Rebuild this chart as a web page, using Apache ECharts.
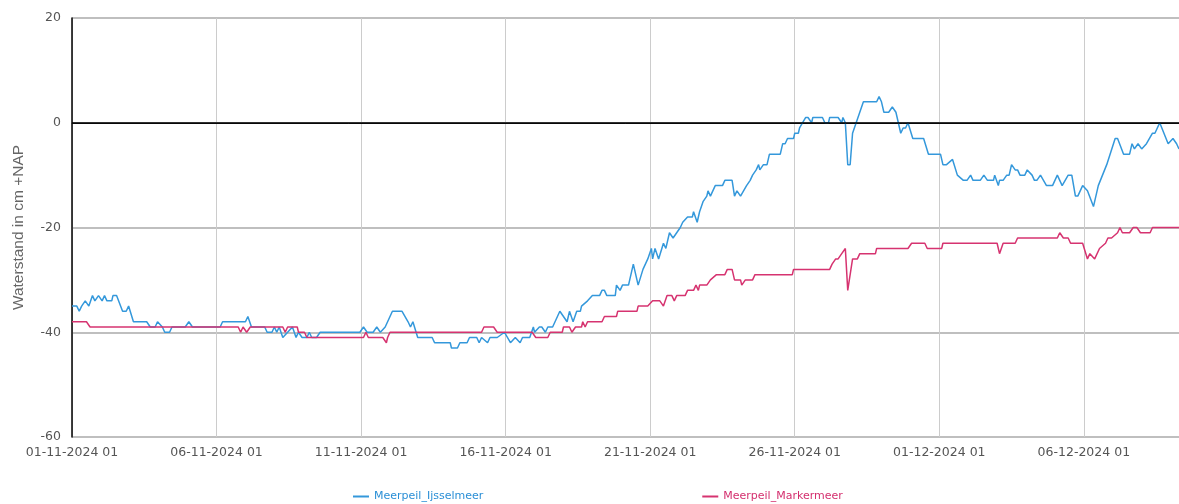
<!DOCTYPE html>
<html>
<head>
    <meta charset="utf-8">
    <title>Meerpeil Ijsselmeer / Markermeer</title>
    <script src="https://cdn.jsdelivr.net/npm/echarts@6/dist/echarts.min.js"></script>
    <style>
        html, body { margin: 0; padding: 0; background: #fff; }
    </style>
</head>
<body>
    <div id="main" style="width: 1179px;height:504px;"></div>
    <script type="text/javascript">
        // tijd = uren na 01-11-2024 01:00, waarde = cm +NAP
        var xLabels = ['01-11-2024 01', '06-11-2024 01', '11-11-2024 01', '16-11-2024 01',
                       '21-11-2024 01', '26-11-2024 01', '01-12-2024 01', '06-12-2024 01'];
        var yTicks = [-60, -40, -20, 0, 20];
        var seriesNames = ['Meerpeil_Ijsselmeer', 'Meerpeil_Markermeer'];

        var ijsselUren = [0, 4, 6, 8, 11, 12, 14, 17, 19, 22, 25, 27, 29, 33, 34, 37, 42, 45, 47, 51,
            62, 65, 69, 71, 75, 77, 81, 83, 94, 97, 100, 123, 125, 144, 146, 149, 160, 162, 166, 168,
            170, 172, 175, 179, 183, 186, 188, 191, 195, 197, 199, 203, 206, 239, 242, 245, 250, 253, 256, 260,
            266, 274, 279, 281, 283, 287, 299, 301, 314, 315, 320, 322, 328, 330, 336, 338, 340, 345, 347, 353,
            359, 364, 368, 372, 374, 380, 383, 384, 388, 390, 393, 395, 399, 401, 403, 405, 408, 411, 413, 416,
            419, 422, 423, 428, 432, 438, 440, 442, 444, 451, 452, 455, 457, 462, 463, 466, 470, 474, 478, 481,
            482, 484, 487, 491, 493, 496, 499, 505, 507, 511, 515, 516, 519, 521, 524, 527, 528, 530, 534, 540,
            542, 548, 550, 552, 555, 556, 560, 563, 565, 568, 570, 571, 574, 577, 579, 588, 590, 592, 594, 599,
            600, 603, 604, 609, 611, 614, 615, 623, 625, 628, 629, 636, 639, 640, 642, 644, 646, 648, 651, 654,
            657, 668, 670, 672, 674, 678, 681, 682, 684, 688, 690, 692, 694, 698, 707, 711, 721, 723, 726, 731,
            735, 740, 743, 746, 748, 754, 757, 760, 765, 766, 769, 770, 773, 776, 778, 780, 783, 785, 787, 791,
            793, 797, 799, 801, 804, 805, 809, 814, 818, 822, 827, 830, 833, 835, 839, 843, 848, 852, 859, 866,
            868, 873, 878, 880, 882, 885, 888, 892, 897, 899, 903, 910, 914, 917, 919];
        var ijsselWaarden = [-35, -35, -36, -35, -34, -34, -35, -33, -34, -33, -34, -33, -34, -34, -33, -33, -36, -36, -35, -38,
            -38, -39, -39, -38, -39, -40, -40, -39, -39, -38, -39, -39, -38, -38, -37, -39, -39, -40, -40, -39,
            -40, -39, -41, -40, -39, -41, -40, -41, -41, -40, -41, -41, -40, -40, -39, -40, -40, -39, -40, -39,
            -36, -36, -38, -39, -38, -41, -41, -42, -42, -43, -43, -42, -42, -41, -41, -42, -41, -42, -41, -41,
            -40, -42, -41, -42, -41, -41, -39, -40, -39, -39, -40, -39, -39, -38, -37, -36, -37, -38, -36, -38,
            -36, -36, -35, -34, -33, -33, -32, -32, -33, -33, -31, -32, -31, -31, -30, -27, -31, -28, -26, -24,
            -26, -24, -26, -23, -24, -21, -22, -20, -19, -18, -18, -17, -19, -17, -15, -14, -13, -14, -12, -12,
            -11, -11, -14, -13, -14, -14, -12, -11, -10, -9, -8, -9, -8, -8, -6, -6, -4, -4, -3, -3,
            -2, -2, -1, 1, 1, 0, 1, 1, 0, 0, 1, 1, 0, 1, 0, -8, -8, -2, 0, 2,
            4, 4, 5, 4, 2, 2, 3, 3, 2, -2, -1, -1, 0, -3, -3, -6, -6, -8, -8, -7,
            -10, -11, -11, -10, -11, -11, -10, -11, -11, -10, -12, -11, -11, -10, -10, -8, -9, -9, -10, -10,
            -9, -10, -11, -11, -10, -10, -12, -12, -10, -12, -10, -10, -14, -14, -12, -13, -16, -12, -8, -3,
            -3, -6, -6, -4, -5, -4, -5, -4, -2, -2, 0, -4, -3, -4, -5];

        var markerUren = [0, 12, 15, 138, 140, 142, 145, 148, 175, 177, 179, 187, 188, 193, 195, 242, 244, 246, 258, 261,
            262, 264, 340, 342, 350, 353, 382, 385, 395, 397, 407, 408, 413, 415, 418, 423, 424, 426, 428, 440,
            442, 452, 453, 469, 470, 478, 482, 488, 491, 494, 498, 500, 502, 509, 511, 516, 518, 520, 521, 527,
            530, 531, 535, 542, 544, 548, 550, 555, 556, 559, 565, 567, 598, 599, 629, 631, 634, 636, 639, 642,
            644, 648, 652, 654, 667, 668, 694, 697, 708, 710, 722, 723, 768, 770, 773, 783, 785, 818, 820, 823,
            827, 829, 839, 843, 845, 849, 853, 858, 860, 863, 868, 870, 872, 878, 881, 884, 887, 895, 897, 919];
        var markerWaarden = [-38, -38, -39, -39, -40, -39, -40, -39, -39, -40, -39, -39, -40, -40, -41, -41, -40, -41, -41, -42,
            -41, -40, -40, -39, -39, -40, -40, -41, -41, -40, -40, -39, -39, -40, -39, -39, -38, -39, -38, -38,
            -37, -37, -36, -36, -35, -35, -34, -34, -35, -33, -33, -34, -33, -33, -32, -32, -31, -32, -31, -31,
            -30, -30, -29, -29, -28, -28, -30, -30, -31, -30, -30, -29, -29, -28, -28, -27, -26, -26, -25, -24,
            -32, -26, -26, -25, -25, -24, -24, -23, -23, -24, -24, -23, -23, -25, -23, -23, -22, -22, -21, -22,
            -22, -23, -23, -26, -25, -26, -24, -23, -22, -22, -21, -20, -21, -21, -20, -20, -21, -21, -20, -20];

        function pairs(uren, waarden) {
            return uren.map(function (u, i) { return [u, waarden[i]]; });
        }

        var myChart = echarts.init(document.getElementById('main'));
        myChart.setOption({
            animation: false,
            legend: {
                left: 353,
                top: 491,
                padding: 0,
                itemWidth: 16,
                itemHeight: 2,
                itemGap: 219,
                icon: 'rect',
                data: [
                    { name: seriesNames[0], textStyle: { color: '#2b8fd6' } },
                    { name: seriesNames[1], textStyle: { color: '#d42f6e' } }
                ],
                textStyle: { fontFamily: 'DejaVu Sans', fontSize: 11 }
            },
            grid: {
                left: 72,
                right: 0,
                top: 18,
                bottom: 67
            },
            xAxis: {
                type: 'value',
                min: 0,
                max: 919,
                interval: 120,
                axisLine: { lineStyle: { color: '#222', width: 1 } },
                axisTick: { show: false },
                splitLine: { show: true, lineStyle: { color: '#cccccc', width: 1 } },
                axisLabel: {
                    margin: 9,
                    color: '#555',
                    fontFamily: 'DejaVu Sans',
                    fontSize: 12.5,
                    showMaxLabel: false,
                    formatter: function (v) {
                        var i = v / 120;
                        return (i === Math.floor(i) && xLabels[i]) ? xLabels[i] : '';
                    }
                }
            },
            yAxis: {
                type: 'value',
                min: yTicks[0],
                max: yTicks[yTicks.length - 1],
                interval: 20,
                name: 'Waterstand in cm +NAP',
                nameLocation: 'middle',
                nameGap: 45,
                nameTextStyle: { color: '#666', fontFamily: 'Liberation Sans', fontSize: 15.5 },
                axisLine: { show: true, lineStyle: { color: '#000', width: 1.5 } },
                axisTick: { show: false },
                splitLine: { lineStyle: { color: '#aaaaaa', width: 1.5 } },
                axisLabel: {
                    margin: 11,
                    color: '#555',
                    fontFamily: 'DejaVu Sans',
                    fontSize: 12.5
                }
            },
            series: [
                {
                    name: seriesNames[0],
                    type: 'line',
                    showSymbol: false,
                    color: '#3498db',
                    lineStyle: { width: 1.5, color: '#3498db' },
                    data: pairs(ijsselUren, ijsselWaarden),
                    markLine: {
                        silent: true,
                        symbol: 'none',
                        label: { show: false },
                        lineStyle: { color: '#000', type: 'solid', width: 1.5 },
                        data: [{ yAxis: 0 }]
                    },
                    z: 3
                },
                {
                    name: seriesNames[1],
                    type: 'line',
                    showSymbol: false,
                    color: '#d63370',
                    lineStyle: { width: 1.5, color: '#d63370' },
                    data: pairs(markerUren, markerWaarden),
                    z: 4
                }
            ]
        });
    </script>
</body>
</html>
